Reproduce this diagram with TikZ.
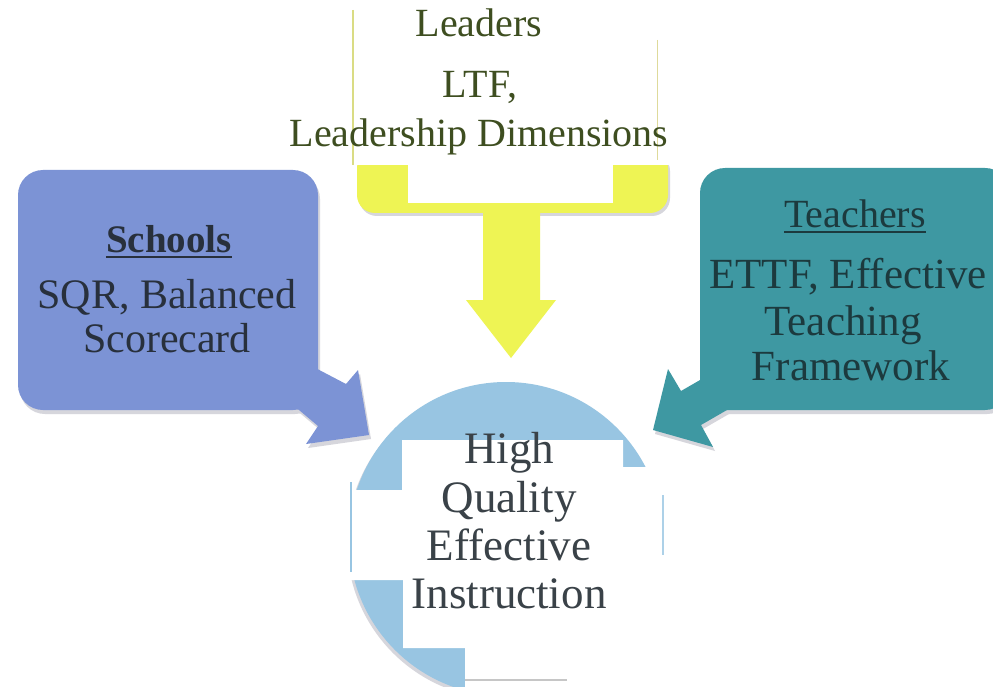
\documentclass[tikz,border=0pt]{standalone}
\usepackage{fontspec}
\setmainfont{Liberation Serif}
\definecolor{yel}{RGB}{238,244,84}
\definecolor{schblue}{RGB}{124,147,213}
\definecolor{teal2}{RGB}{62,152,162}
\definecolor{circ}{RGB}{152,197,226}
\definecolor{ldtext}{RGB}{62,78,32}
\definecolor{schtext}{RGB}{40,48,60}
\definecolor{tchtext}{RGB}{28,58,62}
\definecolor{qtext}{RGB}{58,66,72}
\definecolor{shad}{RGB}{214,214,220}
\begin{document}
\begin{tikzpicture}[x=1pt,y=-1pt,
  lbl/.style={inner sep=0pt, anchor=base, font=\fontsize{40}{44}\selectfont},
  ulbar/.style={line width=2pt}]
\useasboundingbox (0,0) rectangle (993,687);
\clip (0,0) rectangle (993,687);
\fill[white] (0,0) rectangle (993,687);
% shadows
\fill[shad, shift={(2,4)}] (18,170) [rounded corners=25pt] rectangle (318,410);
\fill[shad, shift={(2,4)}] (280,394) -- (318,426) -- (306,444) -- (369,435) -- (358,370) -- (346,384) -- (304,362) -- cycle;
\fill[shad, shift={(2,4)}] (700,168) [rounded corners=25pt] rectangle (1010,410);
\fill[shad, shift={(2,4)}] (733,361) -- (681,391) -- (668,369) -- (653,430) -- (713,447) -- (701,425) -- (753,395) -- cycle;
\fill[shad, shift={(2,3)}] (357,150) [rounded corners=18pt] rectangle (668,213);
\fill[shad, shift={(-2,3)}] (506,539) circle (157pt);
% yellow box and arrow
\fill[yel] (357,150) [rounded corners=18pt] rectangle (668,213);
\fill[yel] (483,205) -- (540,205) -- (540,300) -- (556,300) -- (511,358) -- (466,300) -- (483,300) -- cycle;
% schools box
\fill[schblue] (18,170) [rounded corners=25pt] rectangle (318,410);
\fill[schblue] (280,394) -- (318,426) -- (306,444) -- (369,435) -- (358,370) -- (346,384) -- (304,362) -- cycle;
% teachers box
\fill[teal2] (700,168) [rounded corners=25pt] rectangle (1010,410);
\fill[teal2] (733,361) -- (681,391) -- (668,369) -- (653,430) -- (713,447) -- (701,425) -- (753,395) -- cycle;
% circle
\fill[circ] (506,539) circle (157pt);
% white patches
\fill[white] (340,0) rectangle (672,165);
\fill[white] (408,150) rectangle (613,203);
\fill[white] (402,440) -- (623,440) -- (623,467) -- (668,467) -- (668,690) -- (465,690) -- (465,648) -- (403,648) -- (403,580) -- (344,580) -- (344,490) -- (402,490) -- cycle;
% faint edge lines
\draw[line width=1.5pt, yel!60!olive!60] (353,10) -- (353,165);
\draw[line width=1pt, olive!30] (657,40) -- (657,160);
\draw[line width=2.5pt, circ] (351,482) -- (351,572);
\draw[line width=2pt, circ!80] (663,495) -- (663,555);
\draw[line width=2pt, gray!45] (465,680) -- (567,680);
% leaders text
\node[lbl, text=ldtext] (ld1) at (479,37) {Leaders};
\node[lbl, text=ldtext] (ld2) at (480,98) {LTF,};
\node[lbl, text=ldtext] (ld3) at (479,147) {Leadership Dimensions};
% schools text
\node[lbl, text=schtext, font=\fontsize{39}{44}\selectfont\bfseries] (sch) at (169,252) {Schools};
\draw[ulbar, schtext] ([yshift=-5pt]sch.base west) -- ([yshift=-5pt]sch.base east);
\node[lbl, text=schtext, font=\fontsize{42}{46}\selectfont] (sch2) at (167,308) {SQR, Balanced};
\node[lbl, text=schtext, font=\fontsize{42}{46}\selectfont] (sch3) at (167,352) {Scorecard};
% teachers text
\node[lbl, text=tchtext, font=\fontsize{40}{44}\selectfont] (tch) at (855,227) {Teachers};
\draw[ulbar, tchtext] ([yshift=-5pt]tch.base west) -- ([yshift=-5pt]tch.base east);
\node[lbl, text=tchtext, font=\fontsize{43}{46}\selectfont] (tch2) at (848,288) {ETTF, Effective};
\node[lbl, text=tchtext, font=\fontsize{43}{46}\selectfont] (tch3) at (843,335) {Teaching};
\node[lbl, text=tchtext, font=\fontsize{43}{46}\selectfont] (tch4) at (851,380) {Framework};
% circle text
\node[lbl, text=qtext, font=\fontsize{45}{48}\selectfont] (q1) at (509,463) {High};
\node[lbl, text=qtext, font=\fontsize{45}{48}\selectfont] (q2) at (509,512) {Quality};
\node[lbl, text=qtext, font=\fontsize{45}{48}\selectfont] (q3) at (509,560) {Effective};
\node[lbl, text=qtext, font=\fontsize{45}{48}\selectfont] (q4) at (509,608) {Instruction};
\end{tikzpicture}
\end{document}
